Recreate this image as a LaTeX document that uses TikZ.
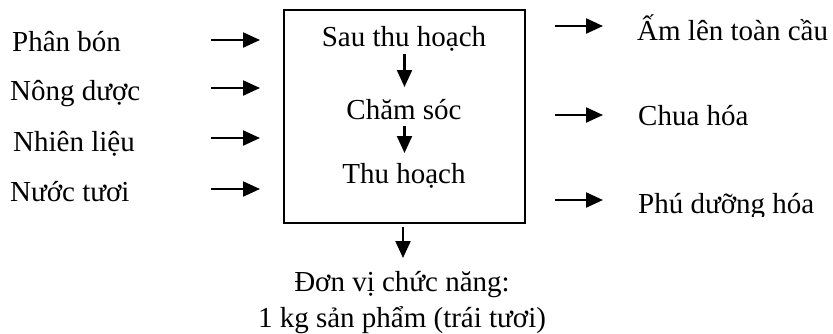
\documentclass[tikz,border=0pt]{standalone}
\usepackage{fontspec}
\setmainfont{Liberation Serif}
\usetikzlibrary{arrows.meta}
\begin{document}
\begin{tikzpicture}[x=1pt, y=-1pt,
  lbl/.style={inner sep=0pt, font=\fontsize{29}{33}\selectfont},
  flow/.style={line width=2.2pt, -{Triangle[length=17pt,width=15pt]}},
  frame/.style={draw, line width=2.2pt, inner sep=0pt}]
\useasboundingbox (0,0) rectangle (833,333);

% system boundary
\node[frame, minimum width=241pt, minimum height=213pt, anchor=north west] (box) at (283,9) {};

% inputs
\node[lbl, anchor=base west] (in1) at (12,51) {Phân bón};
\node[lbl, anchor=base west] (in2) at (10,100) {Nông dược};
\node[lbl, anchor=base west] (in3) at (13,151) {Nhiên liệu};
\node[lbl, anchor=base west] (in4) at (10,201) {Nước tươi};

% life-cycle stages
\node[lbl, anchor=base] (s1) at (404,46.5) {Sau thu hoạch};
\node[lbl, anchor=base] (s2) at (404,119.5) {Chăm sóc};
\node[lbl, anchor=base] (s3) at (404,183) {Thu hoạch};

% impact categories
\node[lbl, anchor=base west] (o1) at (637,40.5) {Ấm lên toàn cầu};
\node[lbl, anchor=base west] (o2) at (638,125) {Chua hóa};
\begin{scope}
  \clip (600,0) rectangle (833,216.5);
  \node[lbl, anchor=base west] (o3) at (638,213) {Phú dưỡng hóa};
\end{scope}

% functional unit
\node[lbl, anchor=base] (fu1) at (402,291.5) {Đơn vị chức năng:};
\node[lbl, anchor=base] (fu2) at (402,327) {1 kg sản phẩm (trái tươi)};

% arrow end points
\foreach \i/\y in {1/40, 2/88, 3/138, 4/189} {
  \coordinate (ia\i) at (211,\y);
  \coordinate (ib\i) at (260,\y);
}
\foreach \i/\y in {1/26, 2/115, 3/200} {
  \coordinate (oa\i) at (555,\y);
  \coordinate (ob\i) at (603,\y);
}
\coordinate (sa1) at (404.5,54);
\coordinate (sb1) at (404.5,87);
\coordinate (sa2) at (404.5,126);
\coordinate (sb2) at (404.5,153);
\coordinate (fa) at (403,227);
\coordinate (fb) at (403,258);

% arrows
\foreach \i in {1,...,4} \draw[flow] (ia\i) -- (ib\i);
\foreach \i in {1,...,3} \draw[flow] (oa\i) -- (ob\i);
\draw[flow] (sa1) -- (sb1);
\draw[flow] (sa2) -- (sb2);
\draw[flow] (fa) -- (fb);
\end{tikzpicture}
\end{document}
